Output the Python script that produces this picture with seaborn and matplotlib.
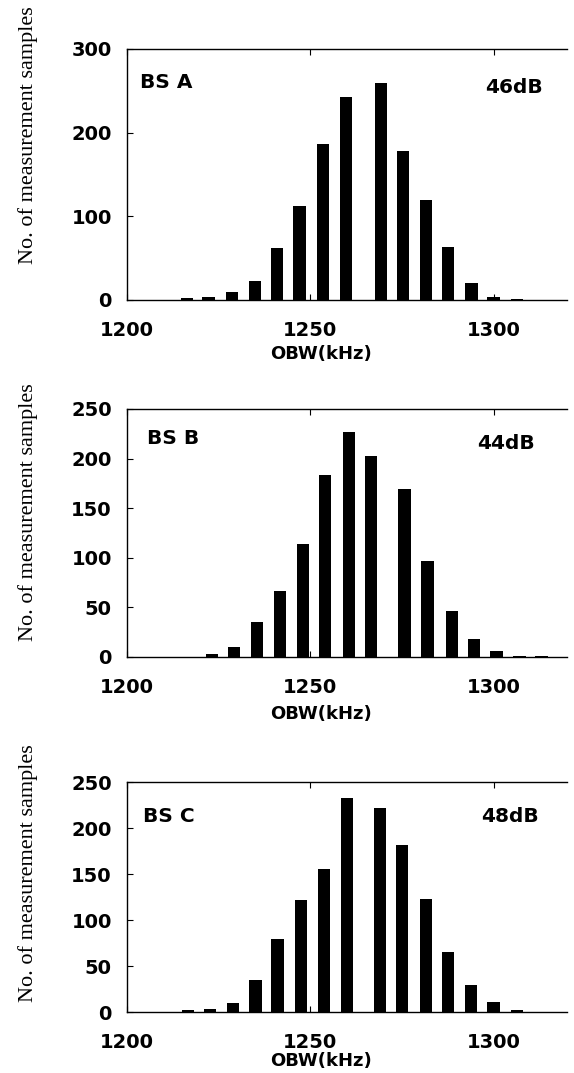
import numpy as np
import matplotlib
matplotlib.use("Agg")
import matplotlib.pyplot as plt
import seaborn as sns

# OBW histogram data (bin centre in kHz, count)
obw_a = [1216.3, 1222.2, 1228.6, 1234.9, 1240.9, 1247.1, 1253.4, 1259.7,
         1269.2, 1275.2, 1281.5, 1287.5, 1294.0, 1300.0, 1306.3]
count_a = [2, 3, 10, 23, 62, 112, 187, 243, 259, 178, 120, 63, 20, 4, 1]

obw_b = [1223.2, 1229.2, 1235.4, 1241.7, 1248.0, 1254.0, 1260.5, 1266.5,
         1275.7, 1282.0, 1288.6, 1294.6, 1300.8, 1307.1, 1313.1]
count_b = [3, 10, 35, 67, 114, 183, 227, 203, 169, 97, 46, 18, 6, 1, 1]

obw_c = [1216.6, 1222.6, 1228.9, 1235.1, 1241.1, 1247.4, 1253.7, 1260.0,
         1269.0, 1275.0, 1281.5, 1287.5, 1293.8, 1300.0, 1306.3]
count_c = [2, 3, 10, 35, 79, 122, 155, 233, 222, 181, 123, 65, 29, 11, 2]

station_names = ["BS A", "BS B", "BS C"]
acpr_labels = ["46dB", "44dB", "48dB"]
y_maxes = [300, 250, 250]
y_steps = [100, 50, 50]
x_ticks = [1200, 1250, 1300]

sns.set_style("ticks")
plt.rcParams["font.family"] = ["DejaVu Sans"]
plt.rcParams["text.color"] = "black"
plt.rcParams["axes.labelcolor"] = "black"

fig = plt.figure(figsize=(5.74, 10.73), dpi=100)
W, H = 574, 1073

# axes boxes in pixels: (left, top, right, bottom)
boxes = [(127, 49, 567, 300), (127, 409, 567, 657), (127, 782, 567, 1012)]
name_pos = [(0.03, 0.865), (0.045, 0.883), (0.036, 0.848)]
db_pos = [(0.945, 0.845), (0.927, 0.859), (0.936, 0.848)]
ylab_center = [135, 512, 873]   # pixel y of the rotated label centre
xlab_y = [-0.18, -0.195, -0.175]

panels = [(obw_a, count_a), (obw_b, count_b), (obw_c, count_c)]

for i, (xs, ys) in enumerate(panels):
    l, t, r, b = boxes[i]
    ax = fig.add_axes([l / W, (H - b) / H, (r - l) / W, (b - t) / H])

    bar_w = 3.4 / np.diff(np.sort(xs)).min()
    sns.barplot(x=xs, y=ys, native_scale=True, color="black", saturation=1,
                width=bar_w, linewidth=0, errorbar=None, ax=ax)

    ax.set_xlim(1200, 1320)
    ax.set_ylim(0, y_maxes[i])
    ax.set_xticks(x_ticks)
    ax.set_xticklabels([str(v) for v in x_ticks])
    ax.set_yticks(np.arange(0, y_maxes[i] + 1, y_steps[i]))

    ax.tick_params(axis="both", direction="in", length=4, width=0.8,
                   labelsize=14, colors="black")
    ax.tick_params(axis="x", top=True, pad=15)
    ax.tick_params(axis="y", pad=11)
    for lab in ax.get_xticklabels() + ax.get_yticklabels():
        lab.set_fontweight("bold")

    for side in ["left", "bottom", "top"]:
        ax.spines[side].set_linewidth(1.0)
        ax.spines[side].set_color("black")
    ax.spines["right"].set_visible(False)

    ax.set_xlabel("OBW(kHz)", fontsize=13, fontweight="bold")
    ax.xaxis.set_label_coords(0.44, xlab_y[i])
    ax.set_ylabel("")
    fig.text(28 / W, 1 - ylab_center[i] / H, "No. of measurement samples",
             rotation=90, ha="center", va="center", fontsize=16,
             family=["Liberation Serif", "DejaVu Serif"])

    ax.text(name_pos[i][0], name_pos[i][1], station_names[i],
            transform=ax.transAxes, ha="left", va="center",
            fontsize=14.5, fontweight="bold")
    ax.text(db_pos[i][0], db_pos[i][1], acpr_labels[i],
            transform=ax.transAxes, ha="right", va="center",
            fontsize=14.5, fontweight="bold")

fig.savefig("out.png", dpi=100, facecolor="white")
